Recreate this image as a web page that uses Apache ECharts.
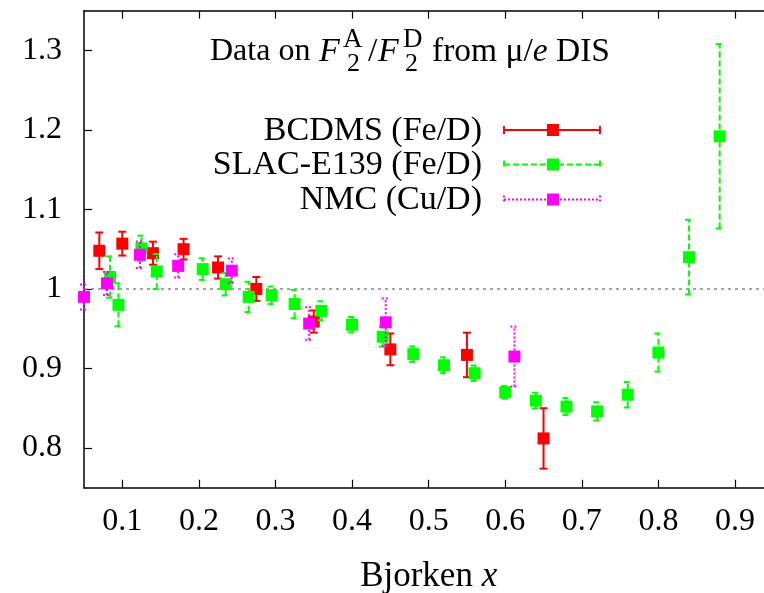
<!DOCTYPE html>
<html>
<head>
<meta charset="utf-8">
<script src="https://cdn.jsdelivr.net/npm/echarts@6/dist/echarts.min.js"></script>
<style>html,body{margin:0;padding:0;background:#fff;}#c{width:764px;height:593px;}</style>
</head>
<body>
<div id="c"></div>
<script>
// ---- data ----
const bcdmsX = [0.07, 0.10, 0.14, 0.18, 0.225, 0.275, 0.35, 0.45, 0.55, 0.65];
const bcdmsY = [1.048, 1.057, 1.045, 1.050, 1.027, 1.000, 0.959, 0.924, 0.917, 0.812];
const bcdmsE = [0.023, 0.015, 0.0145, 0.013, 0.014, 0.015, 0.014, 0.020, 0.028, 0.038];

const slacX = [0.084, 0.095, 0.125, 0.145, 0.205, 0.235, 0.265, 0.295, 0.325, 0.36, 0.40, 0.44, 0.48, 0.52, 0.56, 0.60, 0.64, 0.68, 0.72, 0.76, 0.80, 0.84, 0.88];
const slacY = [1.015, 0.980, 1.051, 1.022, 1.025, 1.006, 0.990, 0.992, 0.981, 0.9725, 0.955, 0.940, 0.918, 0.904, 0.894, 0.870, 0.8595, 0.852, 0.846, 0.867, 0.920, 1.040, 1.192];
const slacE = [0.026, 0.027, 0.016, 0.022, 0.0136, 0.014, 0.019, 0.011, 0.0177, 0.012, 0.0097, 0.0125, 0.0097, 0.010, 0.0097, 0.008, 0.010, 0.0107, 0.0115, 0.016, 0.024, 0.047, 0.116];

const nmcX = [0.05, 0.08, 0.123, 0.173, 0.243, 0.344, 0.444, 0.612];
const nmcY = [0.990, 1.007, 1.043, 1.029, 1.023, 0.9565, 0.958, 0.915];
const nmcE = [0.0157, 0.0145, 0.0167, 0.0146, 0.0153, 0.0205, 0.030, 0.0377];

const xTicks = [0.1, 0.2, 0.3, 0.4, 0.5, 0.6, 0.7, 0.8, 0.9];
const yTicks = [0.8, 0.9, 1.0, 1.1, 1.2, 1.3];
const refLevel = 1;
const seriesNames = ['BCDMS (Fe/D)', 'SLAC-E139 (Fe/D)', 'NMC (Cu/D)'];

// ---- chart ----
const FONT = '"Liberation Serif", "Times New Roman", serif';
const chart = echarts.init(document.getElementById('c'), null, {renderer: 'canvas'});

function errSeries(xs, ys, es, color, dash, z) {
  return {
    type: 'custom', z: z, silent: true, clip: false,
    data: xs.map((x, i) => [x, ys[i] - es[i], ys[i] + es[i]]),
    encode: {x: 0, y: [1, 2]},
    renderItem: function (params, api) {
      const x = api.value(0);
      const lo = api.coord([x, api.value(1)]);
      const hi = api.coord([x, api.value(2)]);
      const cw = 4;
      const st = {stroke: color, lineWidth: 2, lineDash: dash, fill: null};
      return {type: 'group', children: [
        {type: 'line', shape: {x1: lo[0], y1: lo[1], x2: hi[0], y2: hi[1]}, style: st},
        {type: 'line', shape: {x1: lo[0] - cw, y1: lo[1], x2: lo[0] + cw, y2: lo[1]}, style: st},
        {type: 'line', shape: {x1: hi[0] - cw, y1: hi[1], x2: hi[0] + cw, y2: hi[1]}, style: st}
      ]};
    }
  };
}
function ptSeries(name, xs, ys, color, z) {
  return {
    type: 'scatter', name: name, z: z, symbol: 'rect', symbolSize: 12, silent: true,
    itemStyle: {color: color, opacity: 1},
    data: xs.map((x, i) => [x, ys[i]])
  };
}

const axisLineStyle = {color: '#000', width: 1.5};
const fmt = v => String(Math.round(v * 10) / 10);

const RED = '#ff0000', GREEN = '#00ff00', MAG = '#ff00ff';

// legend graphics (gnuplot-style key)
const legendRows = [
  {y: 130, color: RED, dash: null},
  {y: 164.5, color: GREEN, dash: [6, 3]},
  {y: 199.5, color: MAG, dash: [2, 2]}
];
const graphics = [];
legendRows.forEach((r, i) => {
  graphics.push({type: 'text', z: 100, style: {text: seriesNames[i], x: 482, y: r.y + 1, align: 'right', verticalAlign: 'middle', font: '34px ' + FONT, fill: '#000'}});
  const st = {stroke: r.color, lineWidth: 2, lineDash: r.dash};
  graphics.push({type: 'line', z: 100, shape: {x1: 504, y1: r.y, x2: 600, y2: r.y}, style: st});
  graphics.push({type: 'line', z: 100, shape: {x1: 504, y1: r.y - 4, x2: 504, y2: r.y + 4}, style: st});
  graphics.push({type: 'line', z: 100, shape: {x1: 600, y1: r.y - 4, x2: 600, y2: r.y + 4}, style: st});
  graphics.push({type: 'rect', z: 101, shape: {x: 547, y: r.y - 6, width: 12, height: 12}, style: {fill: r.color}});
});
// title pieces
const tFont = sz => sz + 'px ' + FONT;
const tIt = sz => 'italic ' + sz + 'px ' + FONT;
graphics.push(
  {type: 'text', style: {text: 'Data on', x: 210, y: 52, verticalAlign: 'middle', font: tFont(32), fill: '#000'}},
  {type: 'text', style: {text: 'F', x: 319, y: 52, verticalAlign: 'middle', font: tIt(34), fill: '#000'}},
  {type: 'text', style: {text: 'A', x: 343, y: 40, verticalAlign: 'middle', font: tFont(27), fill: '#000'}},
  {type: 'text', style: {text: '2', x: 347, y: 64, verticalAlign: 'middle', font: tFont(26), fill: '#000'}},
  {type: 'text', style: {text: '/', x: 368, y: 52, verticalAlign: 'middle', font: tFont(33.5), fill: '#000'}},
  {type: 'text', style: {text: 'F', x: 378, y: 52, verticalAlign: 'middle', font: tIt(34), fill: '#000'}},
  {type: 'text', style: {text: 'D', x: 403, y: 40, verticalAlign: 'middle', font: tFont(27), fill: '#000'}},
  {type: 'text', style: {text: '2', x: 405, y: 64, verticalAlign: 'middle', font: tFont(26), fill: '#000'}},
  {type: 'text', style: {text: 'from μ/{i|e} DIS', x: 432, y: 52, verticalAlign: 'middle', font: tFont(33.5), fill: '#000',
    rich: {i: {fontStyle: 'italic', fontSize: 33.5, fontFamily: FONT, fill: '#000'}}}}
);

const option = {
  animation: false,
  backgroundColor: '#fff',
  grid: {left: 84, top: 10.7, width: 689.3, height: 477, containLabel: false, outerBoundsMode: 'none'},
  xAxis: [{
    type: 'value', min: 0.05, max: 0.95, position: 'bottom',
    axisLine: {show: true, onZero: false, lineStyle: axisLineStyle},
    axisTick: {show: true, inside: true, length: 8, lineStyle: {color: '#000', width: 1.2}, customValues: xTicks},
    axisLabel: {show: true, customValues: xTicks, formatter: fmt, fontSize: 32, fontFamily: FONT, color: '#000', margin: 18},
    splitLine: {show: false},
    name: 'Bjorken {i|x}', nameLocation: 'middle', nameGap: 72,
    nameTextStyle: {fontSize: 35, fontFamily: FONT, color: '#000', rich: {i: {fontStyle: 'italic', fontSize: 35, fontFamily: FONT, color: '#000'}}}
  }, {
    type: 'value', min: 0.05, max: 0.95, position: 'top',
    axisLine: {show: true, onZero: false, lineStyle: axisLineStyle},
    axisTick: {show: true, inside: true, length: 8, lineStyle: {color: '#000', width: 1.2}, customValues: xTicks},
    axisLabel: {show: false},
    splitLine: {show: false}
  }],
  yAxis: [{
    type: 'value', min: 0.75, max: 1.35,
    axisLine: {show: true, onZero: false, lineStyle: axisLineStyle},
    axisTick: {show: true, inside: true, length: 8, lineStyle: {color: '#000', width: 1.2}, customValues: yTicks},
    axisLabel: {show: true, customValues: yTicks, formatter: fmt, fontSize: 32, fontFamily: FONT, color: '#000', margin: 22},
    splitLine: {show: false}
  }],
  series: [
    {type: 'line', z: 1, silent: true, symbol: 'none', data: [[0.05, refLevel], [0.95, refLevel]],
      lineStyle: {color: '#888', width: 1.5, type: [3, 4]}},
    errSeries(bcdmsX, bcdmsY, bcdmsE, RED, null, 2),
    ptSeries(seriesNames[0], bcdmsX, bcdmsY, RED, 3),
    errSeries(slacX, slacY, slacE, GREEN, [6, 3], 4),
    ptSeries(seriesNames[1], slacX, slacY, GREEN, 5),
    errSeries(nmcX, nmcY, nmcE, MAG, [2, 2], 6),
    ptSeries(seriesNames[2], nmcX, nmcY, MAG, 7)
  ],
  graphic: graphics
};
chart.setOption(option);
</script>
</body>
</html>
